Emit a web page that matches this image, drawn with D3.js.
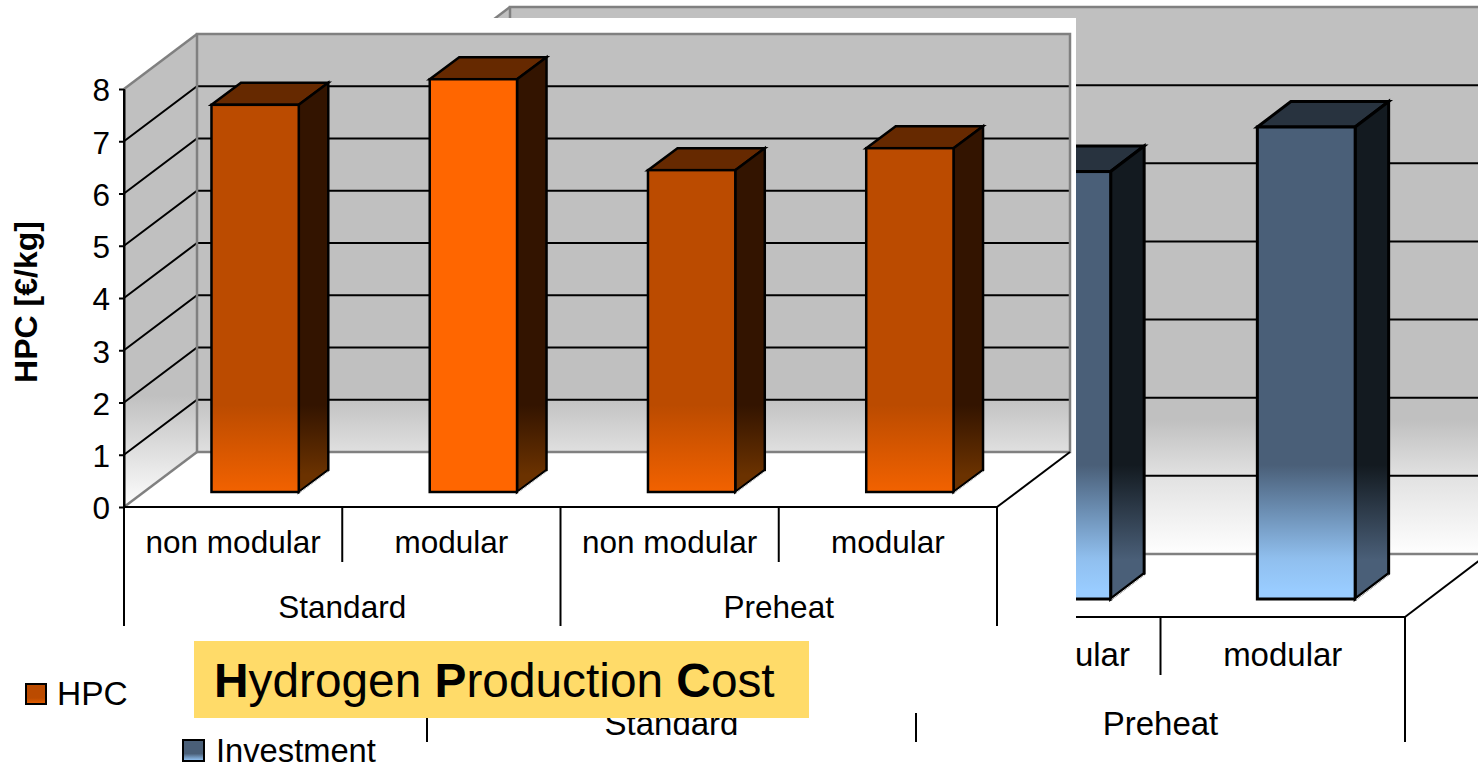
<!DOCTYPE html>
<html lang="en">
<head>
    <title>Hydrogen Production Cost</title>
    <meta charset="utf-8">
    <style>
        body { margin: 0; background: white; overflow: hidden; }
        svg { display: block; }
        text { font-family: "Liberation Sans", sans-serif; fill: #000; }
        .cat-label { text-anchor: middle; }
        .wall-edge { stroke: #808080; stroke-width: 2.5; fill: none; }
        .grid { stroke: #000; stroke-width: 2; fill: none; }
        .axis-line { stroke: #000; stroke-width: 2; fill: none; }
        .bar { stroke: #000; stroke-linejoin: miter; }
        .y-axis text { font-size: 31.5px; font-family: "Liberation Sans", sans-serif; }
        .y-axis line, .y-axis path { stroke: #000; stroke-width: 2; }
    </style>
    <script src="https://d3js.org/d3.v7.min.js"></script>
</head>
<body>
<svg id="chart" width="1478" height="768"></svg>
<script>
    const subCategories = ["non modular", "modular", "non modular", "modular"];
    const groups = ["Standard", "Preheat"];

    const hpcValues = [7.41, 7.9, 6.16, 6.58];
    const hpcTicks = [0, 1, 2, 3, 4, 5, 6, 7, 8];

    // first two investment bars sit behind the front chart, nothing to read
    const investmentValues = [null, null, 5.47, 6.04];
    const investmentTicks = [0, 1, 2, 3, 4, 5, 6, 7];

    const svg = d3.select("#chart");
    const defs = svg.append("defs");
    const line = d3.line();
    const closed = d3.line().curve(d3.curveLinearClosed);

    function gradient(id, stops, y1, y2) {
        const g = defs.append("linearGradient").attr("id", id).attr("x1", 0).attr("x2", 0);
        if (y1 === undefined) {
            g.attr("y1", 0).attr("y2", 1);
        } else {
            g.attr("gradientUnits", "userSpaceOnUse").attr("y1", y1).attr("y2", y2);
        }
        stops.forEach(s => g.append("stop").attr("offset", s[0]).attr("stop-color", s[1]));
    }

    gradient("wallFront", [[0, "#c0c0c0"], [1, "#ffffff"]], 395, 510);
    gradient("wallBack", [[0, "#c0c0c0"], [0.42, "#e2e2e2"], [1, "#ffffff"]], 420, 556);
    gradient("hpcFace", [[0, "#bb4b00"], [1, "#f26200"]], 405, 492);
    gradient("hpcSide", [[0, "#331400"], [1, "#6b3200"]], 405, 475);
    gradient("invFace", [[0, "#4a5f78"], [0.35, "#6a8cb0"], [0.75, "#90bfee"], [1, "#99ccff"]], 465, 590);
    gradient("invSide", [[0, "#131a20"], [1, "#4a5f78"]], 465, 560);
    gradient("hpcSwatch", [[0, "#bb4b00"], [0.7, "#bb4b00"], [1, "#e86000"]]);
    gradient("invSwatch", [[0, "#4a5f78"], [0.65, "#4a5f78"], [1, "#99ccff"]]);

    function drawChart(cfg) {
        const g = svg.append("g");
        const x = d3.scaleBand().domain(d3.range(subCategories.length))
            .range([cfg.left, cfg.right]).paddingInner(0.6).paddingOuter(0.3);
        const y = d3.scaleLinear().domain([0, d3.max(cfg.ticks)]).range([cfg.bottom, cfg.top]);
        const step = x.step();
        const edge = i => cfg.left + i * step;
        const dx = cfg.depthX, dy = cfg.depthY;
        const yTop = y.domain()[1];

        // walls and floor
        g.append("path").attr("fill", `url(#${cfg.wall})`)
            .attr("d", closed([[cfg.left, y(0)], [cfg.left + dx, y(0) - dy], [cfg.left + dx, y(yTop) - dy], [cfg.left, y(yTop)]]));
        g.append("rect").attr("fill", `url(#${cfg.wall})`)
            .attr("x", cfg.left + dx).attr("y", y(yTop) - dy)
            .attr("width", cfg.right - cfg.left).attr("height", y(0) - y(yTop));

        cfg.ticks.filter(t => t > 0 && t < yTop).forEach(t => {
            g.append("path").attr("class", "grid")
                .attr("d", line([[cfg.left, y(t)], [cfg.left + dx, y(t) - dy], [cfg.right + dx, y(t) - dy]]));
        });

        g.append("path").attr("class", "wall-edge")
            .attr("d", closed([[cfg.left + dx, y(yTop) - dy], [cfg.right + dx, y(yTop) - dy], [cfg.right + dx, y(0) - dy], [cfg.left + dx, y(0) - dy]]));
        g.append("path").attr("class", "wall-edge")
            .attr("d", line([[cfg.left, y(yTop)], [cfg.left + dx, y(yTop) - dy]]));
        g.append("path").attr("class", "wall-edge")
            .attr("d", line([[cfg.left, y(0)], [cfg.left + dx, y(0) - dy]]));
        g.append("path").attr("class", "axis-line")
            .attr("d", line([[cfg.right, y(0)], [cfg.right + dx, y(0) - dy]]));

        // bars
        cfg.values.forEach((v, i) => {
            if (v === null) return;
            const x0 = x(i) + cfg.barX;
            const x1 = x0 + x.bandwidth();
            const base = y(0) - cfg.barY;
            const top = y(v) - cfg.barY;
            const bx = cfg.barDepthX, by = cfg.barDepthY;
            const sw = cfg.barStroke;

            g.append("path").attr("class", "bar").attr("stroke-width", sw).attr("fill", cfg.topColor(i))
                .attr("d", closed([[x0, top], [x0 + bx, top - by], [x1 + bx, top - by], [x1, top]]));
            g.append("path").attr("class", "bar").attr("stroke-width", sw).attr("fill", cfg.sideColor(i))
                .attr("d", closed([[x1, top], [x1 + bx, top - by], [x1 + bx, base - by], [x1, base]]));
            g.append("rect").attr("class", "bar").attr("stroke-width", sw).attr("fill", cfg.faceColor(i))
                .attr("x", x0).attr("y", top).attr("width", x1 - x0).attr("height", base - top);
            g.append("path").attr("stroke", "#e8e8e8").attr("stroke-width", 1).attr("fill", "none")
                .attr("d", line([[x1 + 1, base + 0.5], [x1 + bx, base - by + 1.5]]));
        });

        // category axis, two levels
        g.append("path").attr("class", "axis-line")
            .attr("d", line([[cfg.left, y(0)], [cfg.right, y(0)]]));
        subCategories.forEach((name, i) => {
            g.append("text").attr("class", "cat-label").attr("font-size", cfg.labelSize)
                .attr("x", edge(i) + step / 2).attr("y", cfg.subBaseline).text(name);
        });
        d3.range(subCategories.length + 1).forEach(i => {
            const low = i % 2 === 0 ? cfg.groupTick : cfg.subTick;
            g.append("path").attr("class", "axis-line")
                .attr("d", line([[edge(i), y(0)], [edge(i), low]]));
        });
        groups.forEach((name, i) => {
            g.append("text").attr("class", "cat-label").attr("font-size", cfg.labelSize)
                .attr("x", edge(i * 2 + 1)).attr("y", cfg.groupBaseline).text(name);
        });

        return { y };
    }

    // back chart, mostly covered by the front one
    drawChart({
        values: investmentValues, ticks: investmentTicks,
        left: 427, right: 1405, bottom: 617, top: 70,
        depthX: 83, depthY: 63, wall: "wallBack",
        barX: 23.5, barY: 18, barDepthX: 33.5, barDepthY: 25.5, barStroke: 3,
        faceColor: () => "url(#invFace)", sideColor: () => "url(#invSide)", topColor: () => "#28333f",
        subBaseline: 666, groupBaseline: 735, subTick: 675, groupTick: 742, labelSize: 33
    });

    svg.append("rect").attr("x", 0).attr("y", 18).attr("width", 1076).attr("height", 695).attr("fill", "white");

    const front = drawChart({
        values: hpcValues, ticks: hpcTicks,
        left: 124, right: 997, bottom: 507, top: 89,
        depthX: 73, depthY: 55, wall: "wallFront",
        barX: 22, barY: 15, barDepthX: 29.5, barDepthY: 22, barStroke: 2.5,
        faceColor: i => i === 1 ? "#ff6600" : "url(#hpcFace)", sideColor: () => "url(#hpcSide)", topColor: () => "#662900",
        subBaseline: 553, groupBaseline: 618, subTick: 562, groupTick: 626, labelSize: 31.5
    });

    const yAxis = d3.axisLeft(front.y).tickValues(hpcTicks).tickFormat(d3.format("d")).tickSize(5).tickSizeOuter(0).tickPadding(9);
    svg.append("g").attr("class", "y-axis").attr("transform", "translate(124,0)").call(yAxis)
        .call(a => a.selectAll("text").attr("dy", "0.38em"));
    svg.append("path").attr("class", "axis-line").attr("d", line([[124, 89], [124, 626]]));

    svg.append("text").attr("transform", "translate(37,302) rotate(-90)")
        .attr("text-anchor", "middle").attr("font-size", 32).attr("font-weight", "bold").text("HPC [€/kg]");

    // legends
    svg.append("rect").attr("x", 26).attr("y", 684).attr("width", 20).attr("height", 20)
        .attr("fill", "url(#hpcSwatch)").attr("stroke", "#000").attr("stroke-width", 2);
    svg.append("text").attr("x", 57).attr("y", 705).attr("font-size", 33.5).text("HPC");

    svg.append("rect").attr("x", 183).attr("y", 740).attr("width", 21).attr("height", 21)
        .attr("fill", "url(#invSwatch)").attr("stroke", "#000").attr("stroke-width", 2);
    svg.append("text").attr("x", 216).attr("y", 762).attr("font-size", 32.7).text("Investment");

    // title box
    svg.append("rect").attr("x", 194).attr("y", 641).attr("width", 615).attr("height", 77).attr("fill", "#ffdb69");
    const title = svg.append("text").attr("x", 214).attr("y", 697).attr("font-size", 47.8);
    [["H", true], ["ydrogen ", false], ["P", true], ["roduction ", false], ["C", true], ["ost", false]].forEach(t => {
        title.append("tspan").attr("font-weight", t[1] ? "bold" : "normal").text(t[0]);
    });
</script>
</body>
</html>
